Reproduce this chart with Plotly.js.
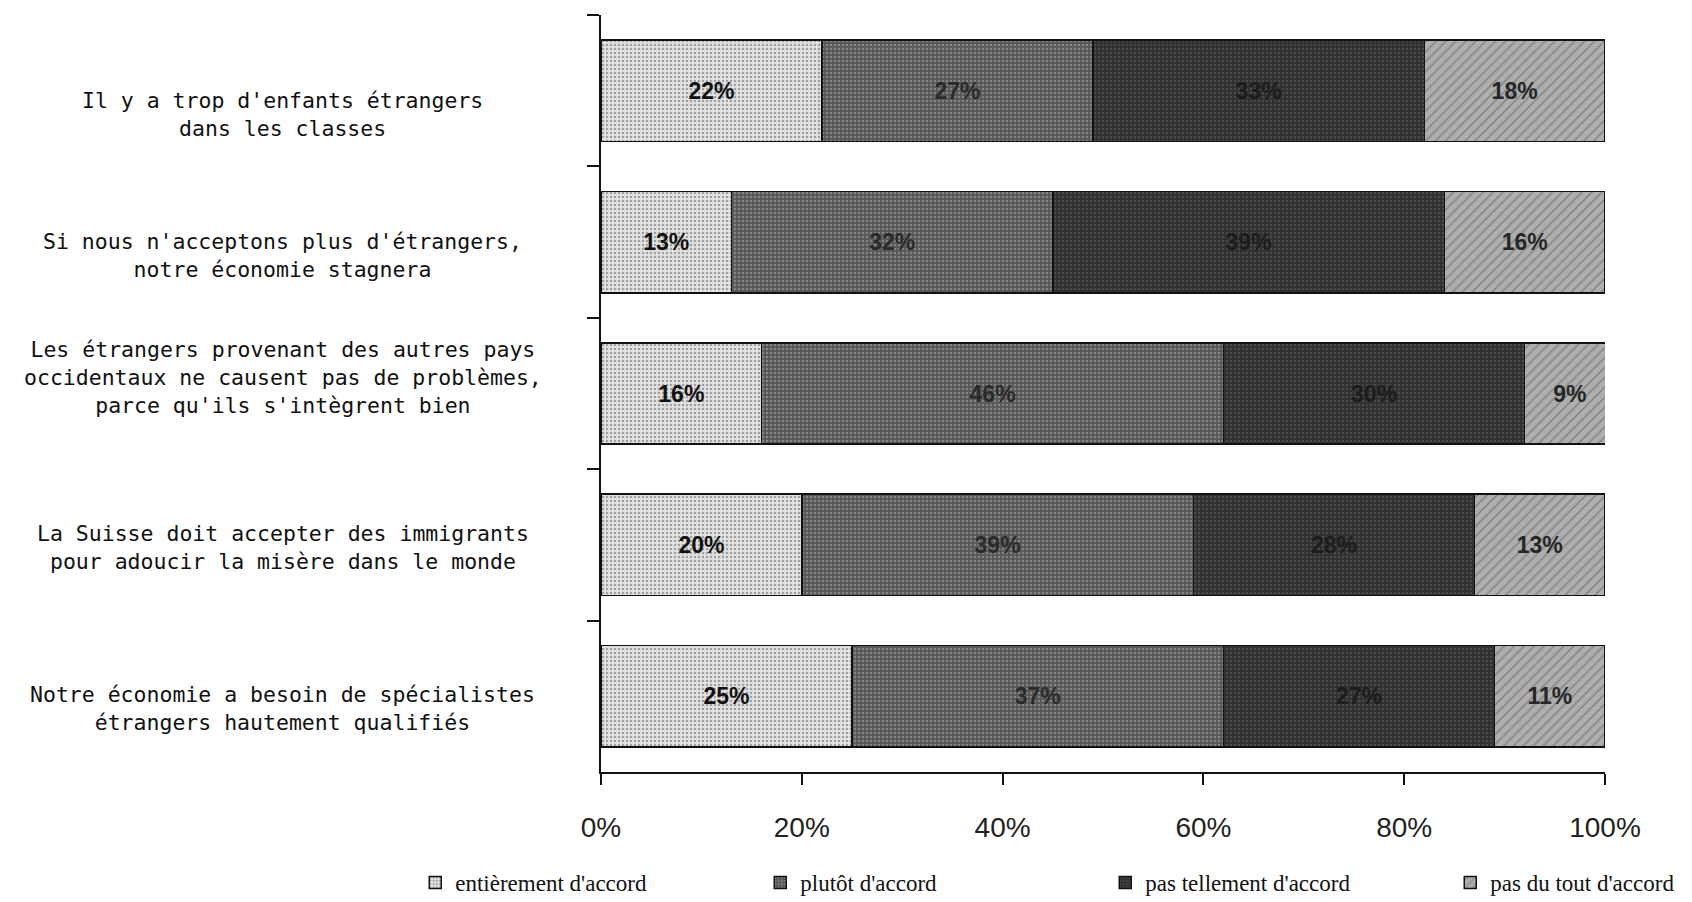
<!DOCTYPE html>
<html>
<head>
<meta charset="utf-8">
<script src="https://cdn.plot.ly/plotly-3.0.1.min.js"></script>
<style>
  html, body { margin: 0; padding: 0; background: #ffffff; }
  #chart { width: 1692px; height: 902px; }
</style>
</head>
<body>
<div id="chart"></div>
<script>
// ---- data ----
const categories = [
  "Il y a trop d'enfants étrangers<br>dans les classes",
  "Si nous n'acceptons plus d'étrangers,<br>notre économie stagnera",
  "Les étrangers provenant des autres pays<br>occidentaux ne causent pas de problèmes,<br>parce qu'ils s'intègrent bien",
  "La Suisse doit accepter des immigrants<br>pour adoucir la misère dans le monde",
  "Notre économie a besoin de spécialistes<br>étrangers hautement qualifiés"
];
const seriesNames = ["entièrement d'accord", "plutôt d'accord", "pas tellement d'accord", "pas du tout d'accord"];
const entierement = [22, 13, 16, 20, 25];
const plutot      = [27, 32, 46, 39, 37];
const pasTellement = [33, 39, 30, 28, 27];
const pasDuTout   = [18, 16, 9, 13, 11];
const xTickVals = [0, 20, 40, 60, 80, 100];
const xTickText = ["0%", "20%", "40%", "60%", "80%", "100%"];

// ---- styles ----
const seriesValues = [entierement, plutot, pasTellement, pasDuTout];
const styles = [
  {bg: '#e2e2e2', fg: '#a0a0a0', shape: '.', size: 4, solidity: 0.3, txt: '#111111'},
  {bg: '#575757', fg: '#858585', shape: '.', size: 4, solidity: 0.3, txt: '#2a2a2a'},
  {bg: '#303030', fg: '#4a4a4a', shape: '.', size: 4, solidity: 0.3, txt: '#1c1c1c'},
  {bg: '#aeaeae', fg: '#808080', shape: '/', size: 7, solidity: 0.2, txt: '#262626'}
];
const labelShift = [-24, -13, 16, -3, -12];

const traces = seriesValues.map((vals, i) => ({
  type: 'bar',
  orientation: 'h',
  name: seriesNames[i],
  y: categories,
  x: vals,
  text: vals.map(v => v + '%'),
  texttemplate: '%{text}',
  textposition: 'inside',
  insidetextanchor: 'middle',
  constraintext: 'none',
  textfont: {family: 'Liberation Sans, Arial, sans-serif', size: 23, weight: 'bold', color: styles[i].txt},
  marker: {
    color: styles[i].bg,
    line: {color: '#111111', width: 1.5},
    pattern: {shape: styles[i].shape, bgcolor: styles[i].bg, fgcolor: styles[i].fg,
              size: styles[i].size, solidity: styles[i].solidity}
  },
  hoverinfo: 'skip'
}));

const annotations = categories.map((c, i) => ({
  xref: 'paper', yref: 'y',
  x: -0.317, y: c,
  yshift: labelShift[i],
  text: c,
  showarrow: false,
  xanchor: 'center', yanchor: 'middle',
  align: 'center',
  font: {family: 'DejaVu Sans Mono, Liberation Mono, monospace', size: 21.5, color: '#111111'}
}));

const layout = {
  width: 1692, height: 902,
  paper_bgcolor: '#ffffff', plot_bgcolor: '#ffffff',
  margin: {l: 601, r: 87, t: 15, b: 130, autoexpand: false},
  barmode: 'stack',
  bargap: 0.33,
  showlegend: true,
  legend: {
    orientation: 'h', x: -0.185, xanchor: 'left', y: -0.146, yanchor: 'middle',
    traceorder: 'normal',
    entrywidth: 300, entrywidthmode: 'pixels',
    font: {family: 'Liberation Serif, DejaVu Serif, serif', size: 23, color: '#111111'},
    itemwidth: 30
  },
  xaxis: {
    range: [0, 100],
    tickvals: xTickVals, ticktext: xTickText,
    showgrid: false, zeroline: false,
    showline: true, linecolor: '#111111', linewidth: 2,
    ticks: 'outside', ticklen: 11, tickwidth: 2, tickcolor: '#111111',
    tickfont: {family: 'Liberation Sans, Arial, sans-serif', size: 28, color: '#222222'},
    ticklabelstandoff: 18,
    automargin: false
  },
  yaxis: {
    type: 'category',
    autorange: 'reversed',
    showticklabels: false,
    showgrid: false, zeroline: false,
    showline: true, linecolor: '#111111', linewidth: 2,
    tickson: 'boundaries',
    ticks: 'outside', ticklen: 12, tickwidth: 2, tickcolor: '#111111',
    automargin: false
  },
  annotations: annotations
};

Plotly.newPlot('chart', traces, layout, {displayModeBar: false, staticPlot: true});
</script>
</body>
</html>
